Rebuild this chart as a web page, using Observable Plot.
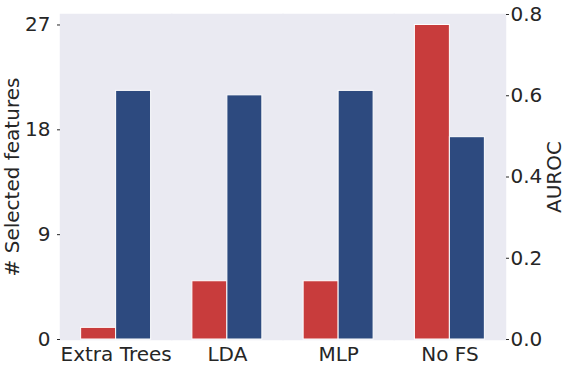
<!DOCTYPE html>
<html>
<head>
<meta charset="utf-8">
<script src="https://cdn.jsdelivr.net/npm/d3@7"></script>
<script src="https://cdn.jsdelivr.net/npm/@observablehq/plot@0.6"></script>
<style>
  html, body { margin: 0; padding: 0; background: white; }
</style>
</head>
<body>
<div id="chart"></div>
<script>
const categories = ["Extra Trees", "LDA", "MLP", "No FS"];
const selectedFeatures = [1, 5, 5, 27];
const aurocValues = [0.612, 0.601, 0.612, 0.498];
const leftTicks = [0, 9, 18, 27];
const rightTicks = [0.0, 0.2, 0.4, 0.6, 0.8];

const leftMax = 27.9;
const rightMax = 0.8;
const toLeft = v => v * leftMax / rightMax;
const toRight = v => v * rightMax / leftMax;

const data = categories.flatMap((c, i) => [
  {cat: c, series: "features", v: selectedFeatures[i]},
  {cat: c, series: "auroc", v: toLeft(aurocValues[i])}
]);

const chart = Plot.plot({
  width: 566,
  height: 367,
  marginLeft: 60,
  marginRight: 61,
  marginTop: 14,
  marginBottom: 28,
  style: {fontFamily: "DejaVu Sans", fontSize: "20px", color: "#262626", background: "white"},
  fx: {domain: categories, padding: 0, round: false, label: null, axis: "bottom", tickSize: 0, tickPadding: 7},
  x: {domain: ["features", "auroc"], paddingInner: 0, paddingOuter: 0.59, round: false, axis: null},
  y: {domain: [0, leftMax], axis: null},
  color: {domain: ["features", "auroc"], range: ["#C83C3C", "#2D4A7F"]},
  marks: [
    Plot.frame({fill: "#EAEAF2", stroke: "#EAEAF2", strokeWidth: 1.5}),
    Plot.barY(data, {fx: "cat", x: "series", y: "v", fill: "series", stroke: "white", strokeWidth: 1}),
    Plot.axisY({anchor: "left", ticks: leftTicks, tickSize: 3, tickPadding: 7,
      label: "# Selected features", labelArrow: "none", labelAnchor: "center", labelOffset: 56}),
    Plot.axisY({anchor: "right", ticks: rightTicks.map(toLeft), tickSize: 3, tickPadding: 2,
      tickFormat: d => toRight(d).toFixed(1),
      label: "AUROC", labelArrow: "none", labelAnchor: "center", labelOffset: 55})
  ]
});
document.getElementById("chart").appendChild(chart);
</script>
</body>
</html>
